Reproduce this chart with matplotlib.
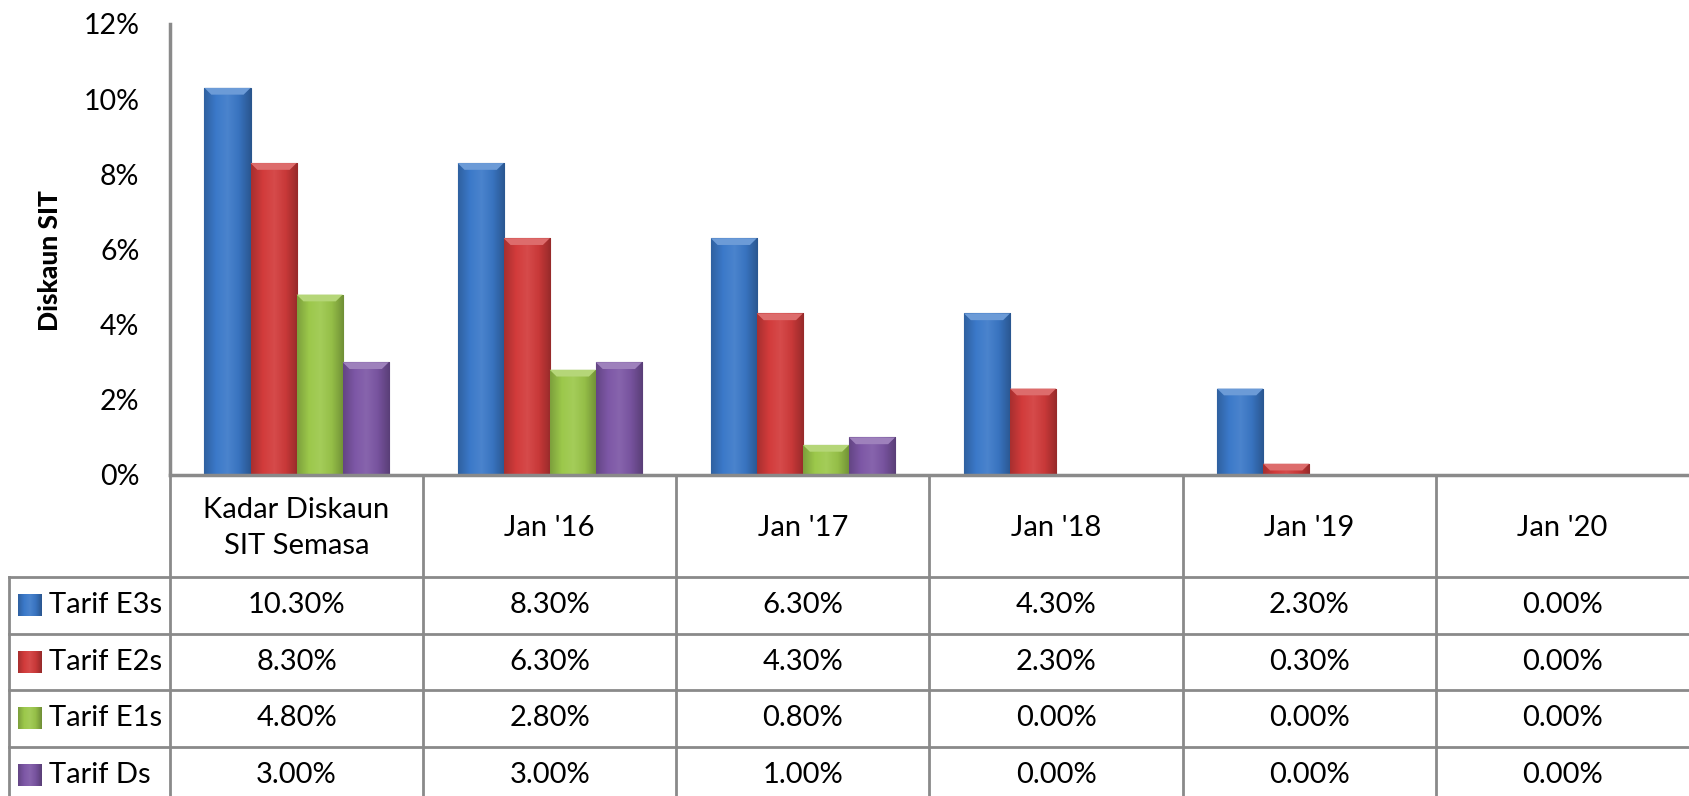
import numpy as np
import matplotlib.pyplot as plt
import matplotlib.colors as mcolors
from matplotlib.ticker import FuncFormatter

# Data
categories = ["Kadar Diskaun\nSIT Semasa", "Jan '16", "Jan '17", "Jan '18", "Jan '19", "Jan '20"]
series_names = ["Tarif E3s", "Tarif E2s", "Tarif E1s", "Tarif Ds"]
tarif_e3s = [10.3, 8.3, 6.3, 4.3, 2.3, 0.0]
tarif_e2s = [8.3, 6.3, 4.3, 2.3, 0.3, 0.0]
tarif_e1s = [4.8, 2.8, 0.8, 0.0, 0.0, 0.0]
tarif_ds = [3.0, 3.0, 1.0, 0.0, 0.0, 0.0]
series_values = [tarif_e3s, tarif_e2s, tarif_e1s, tarif_ds]
colors = ["#3b79c9", "#d23b3b", "#9cc84b", "#7d57a6"]
yticks = [0, 2, 4, 6, 8, 10, 12]

plt.rcParams['font.family'] = ['Lato', 'DejaVu Sans']

W, H = 1689, 796
fig = plt.figure(figsize=(W / 100, H / 100), dpi=100)
ax_left, ax_bottom_px, ax_top_px = 170, 475, 24
ax = fig.add_axes([ax_left / W, 1 - ax_bottom_px / H, 1 - ax_left / W,
                   (ax_bottom_px - ax_top_px) / H])

grey = "#8a8a8a"


def shade(color, f):
    r, g, b = mcolors.to_rgb(color)
    if f < 1:
        return (r * f, g * f, b * f)
    return tuple(c + (1 - c) * (f - 1) for c in (r, g, b))


def gradient_cmap(color):
    return mcolors.LinearSegmentedColormap.from_list(
        "g", [shade(color, 0.8), shade(color, 1.0), shade(color, 1.08),
              shade(color, 0.95), shade(color, 0.72)])


x = np.arange(len(categories))
width = 0.182
for i, (vals, col) in enumerate(zip(series_values, colors)):
    bars = ax.bar(x + (i - 1.5) * width, vals, width, color=col,
                  edgecolor=shade(col, 0.7), linewidth=0.8, zorder=2)
    cmap = gradient_cmap(col)
    grad = np.linspace(0, 1, 64).reshape(1, -1)
    for b in bars:
        h = b.get_height()
        if h <= 0:
            continue
        bx, by, bw = b.get_x(), b.get_y(), b.get_width()
        im = ax.imshow(grad, cmap=cmap, aspect='auto',
                       extent=[bx, bx + bw, by, by + h], zorder=2.5)
        im.set_clip_path(b)
        # lighter bevel at top of each bar
        cap = min(0.18, h)
        ax.fill([bx, bx + bw, bx + bw * 0.85, bx + bw * 0.15],
                [by + h, by + h, by + h - cap, by + h - cap],
                color=shade(col, 1.25), zorder=3, lw=0)

ax.set_xlim(-0.5, len(categories) - 0.5)
ax.set_ylim(0, 12)
ax.set_yticks(yticks)
ax.yaxis.set_major_formatter(FuncFormatter(lambda v, p: f"{v:.0f}%"))
ax.set_xticks([])
ax.tick_params(axis='y', length=0, pad=22, labelsize=20.5)
for s in ['top', 'right']:
    ax.spines[s].set_visible(False)
ax.spines['left'].set_color(grey)
ax.spines['left'].set_linewidth(2.5)
ax.spines['bottom'].set_color(grey)
ax.spines['bottom'].set_linewidth(2.5)

fig.text(50 / W, 1 - 261 / H, "Diskaun SIT", rotation=90, fontsize=19,
         fontweight='black', ha='center', va='center')

# Data table below the chart (pixel coordinates)
tax = fig.add_axes([0, 0, 1, 1], facecolor='none')
tax.set_xlim(0, W)
tax.set_ylim(H, 0)
tax.axis('off')

col_w = (W - ax_left) / len(categories)
col_x = [ax_left + i * col_w for i in range(len(categories) + 1)]
header_bottom = 577
row_h = 56.5
row_y = [header_bottom + i * row_h for i in range(len(series_names) + 1)]
table_left = 9
lw = 2

for cx in col_x[:-1]:
    tax.plot([cx, cx], [ax_bottom_px, H], color=grey, lw=lw)
tax.plot([table_left, table_left], [header_bottom, H], color=grey, lw=lw)
for ry in row_y:
    tax.plot([table_left, W], [ry, ry], color=grey, lw=lw)

for j, cat in enumerate(categories):
    cx = (col_x[j] + col_x[j + 1]) / 2
    tax.text(cx, (ax_bottom_px + header_bottom) / 2 + 2, cat, ha='center',
             va='center', fontsize=21, linespacing=1.45)

for i, (name, vals, col) in enumerate(zip(series_names, series_values, colors)):
    cy = (row_y[i] + row_y[i + 1]) / 2
    # legend key
    key_grad = np.linspace(0, 1, 32).reshape(1, -1)
    tax.imshow(key_grad, cmap=gradient_cmap(col), aspect='auto',
               extent=[18, 42, cy + 11, cy - 11], zorder=3)
    tax.text(49, cy, name, ha='left', va='center', fontsize=21)
    for j, v in enumerate(vals):
        cx = (col_x[j] + col_x[j + 1]) / 2
        tax.text(cx, cy, f"{v:.2f}%", ha='center', va='center', fontsize=21)
tax.set_xlim(0, W)
tax.set_ylim(H, 0)

fig.savefig("out.png", dpi=100)
